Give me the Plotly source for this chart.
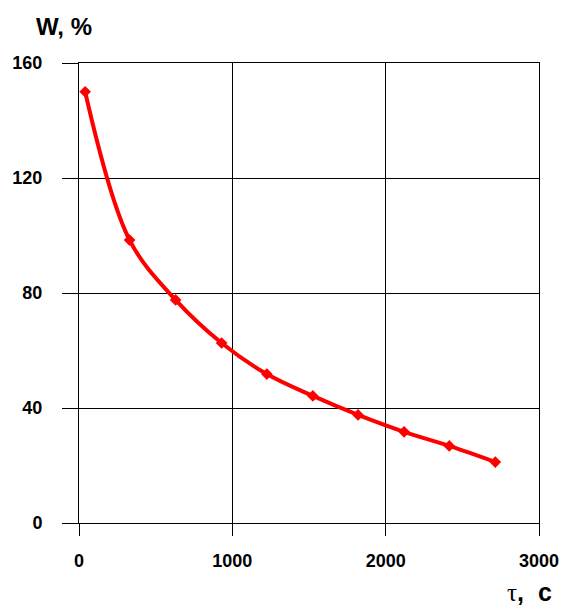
import plotly.graph_objects as go

tau = [40, 330, 630, 930, 1225, 1525, 1820, 2120, 2415, 2715]
W = [150, 98.4, 77.6, 62.6, 51.8, 44.2, 37.6, 31.7, 26.8, 21.2]
x_ticks = [0, 1000, 2000, 3000]
y_ticks = [0, 40, 80, 120, 160]

fig = go.Figure()
fig.add_trace(go.Scatter(
    x=tau, y=W, mode="lines+markers",
    line=dict(color="#ff0000", width=4, shape="spline", smoothing=1.0),
    marker=dict(symbol="diamond", size=9, color="#ff0000"),
    showlegend=False,
))

font_ticks = dict(family="Liberation Sans, Arial, sans-serif", size=18, color="black")
fig.update_layout(
    width=571, height=607,
    margin=dict(l=79, r=25, t=63, b=84),
    paper_bgcolor="white", plot_bgcolor="white",
    xaxis=dict(range=[0, 3000], tickvals=x_ticks, ticktext=[f"<b>{v}</b>" for v in x_ticks],
               showgrid=True, gridcolor="black", gridwidth=1,
               showline=True, linecolor="black", linewidth=1, mirror=True,
               ticks="outside", ticklen=12, tickcolor="black",
               ticklabelstandoff=9, tickfont=font_ticks, zeroline=False),
    yaxis=dict(range=[0, 160], tickvals=y_ticks, ticktext=[f"<b>{v}</b>" for v in y_ticks],
               showgrid=True, gridcolor="black", gridwidth=1,
               showline=True, linecolor="black", linewidth=1, mirror=True,
               ticks="outside", ticklen=16, tickcolor="black",
               ticklabelstandoff=16, tickfont=font_ticks, zeroline=False),
    annotations=[
        dict(text="<b>W, %</b>", xref="paper", yref="paper", x=-0.098, y=1.08,
             xanchor="left", yanchor="middle", showarrow=False,
             font=dict(family="Liberation Sans, Arial, sans-serif", size=24, color="black")),
        dict(text="<span style='font-family:Liberation Serif'>τ</span><b>,  с</b>",
             xref="paper", yref="paper", x=1.033, y=-0.15,
             xanchor="right", yanchor="middle", showarrow=False,
             font=dict(family="Liberation Sans, Arial, sans-serif", size=25, color="black")),
    ],
)

fig.write_html("out.html", config={"displayModeBar": False},
               post_script="document.body.style.margin='0';")
